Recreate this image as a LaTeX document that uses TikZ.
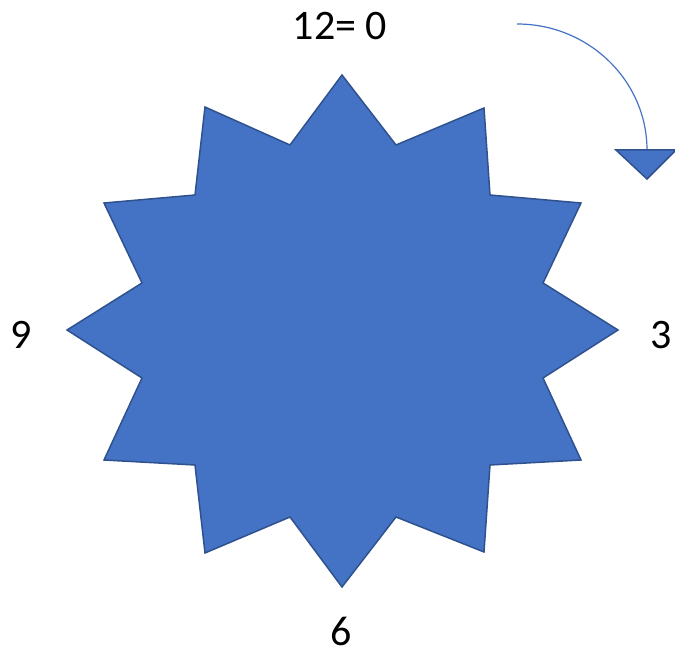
\documentclass[tikz,border=0pt]{standalone}
\usepackage{fontspec}
\setmainfont{Carlito}
\definecolor{officeblue}{HTML}{4472C4}
\definecolor{officeedge}{HTML}{2F528F}
\begin{document}
\begin{tikzpicture}[x=1pt,y=-1pt,
  lbl/.style={font=\fontsize{42}{50}\selectfont, inner sep=0pt, text=black},
  starshape/.style={fill=officeblue, draw=officeedge, line width=1.5pt, line join=miter},
  arcline/.style={draw=officeblue, line width=1.2pt}]
\useasboundingbox (0,0) rectangle (675,652);
\draw[starshape] (342,75) -- (396,145) -- (484,108) -- (490,195) -- (581,203) -- (543,283)
  -- (618,330) -- (543,378) -- (581,460) -- (490,465) -- (484,552) -- (396,517)
  -- (342,587) -- (290,517) -- (205,553) -- (195,465) -- (104,460) -- (142,378)
  -- (67,330) -- (142,283) -- (104,203) -- (195,195) -- (205,107) -- (290,145) -- cycle;
\node[lbl] (top) at (340,26) {12= 0};
\node[lbl] (right) at (661,335) {3};
\node[lbl] (left) at (21,335) {9};
\node[lbl, anchor=base] (bottom) at (341,645) {6};
\coordinate (arcstart) at (517,24);
\coordinate (arcend) at (647,150);
\draw[arcline] (arcstart) .. controls (589,24) and (647,81) .. (arcend);
\draw[starshape] (616,150) -- (676,150) -- (647,179) -- cycle;
\end{tikzpicture}
\end{document}
